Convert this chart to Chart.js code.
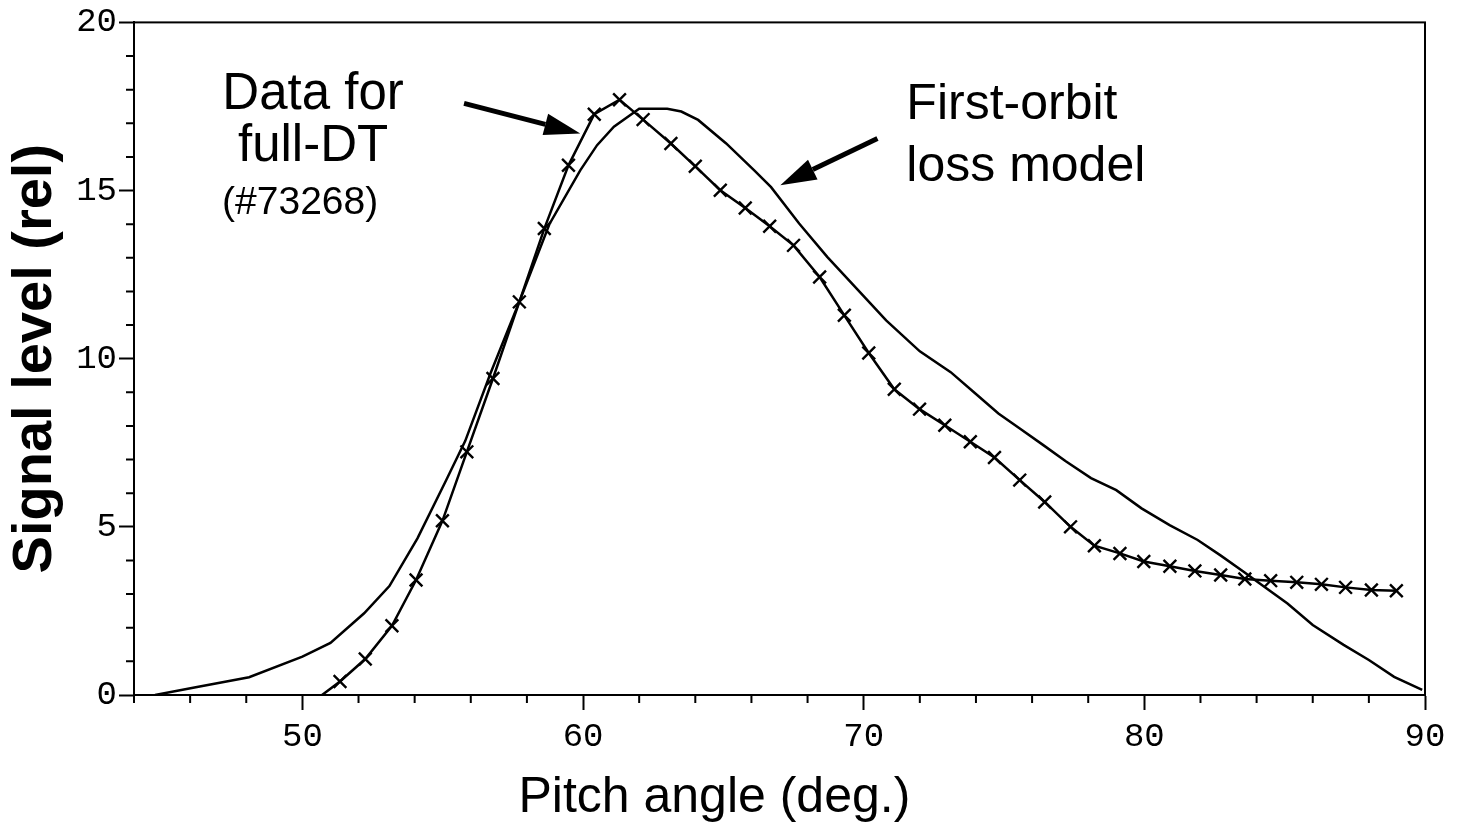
<!DOCTYPE html>
<html>
<head>
<meta charset="utf-8">
<script src="https://cdn.jsdelivr.net/npm/chart.js"></script>
<style>
  html, body { margin: 0; padding: 0; background: #fff; }
  #wrap { width: 1473px; height: 827px; }
</style>
</head>
<body>
<div id="wrap"><canvas id="pitchChart" width="1473" height="827"></canvas></div>
<script>
// measured data (x markers), pitch angle in deg
const dataAngle = [50.7, 51.34, 52.24, 53.19, 54.05, 54.99, 55.86, 56.79, 57.73, 58.62, 59.48, 60.40,
  61.30, 62.14, 63.13, 64.00, 64.89, 65.78, 66.65, 67.50, 68.43, 69.31, 70.18, 71.09, 71.99,
  72.89, 73.80, 74.66, 75.56, 76.45, 77.37, 78.22, 79.13, 79.98, 80.91, 81.80, 82.72, 83.58,
  84.50, 85.43, 86.31, 87.17, 88.09, 88.98];
const dataSignal = [0.0, 0.40, 1.07, 2.06, 3.42, 5.18, 7.23, 9.41, 11.69, 13.87, 15.75, 17.27,
  17.70, 17.11, 16.40, 15.72, 15.01, 14.48, 13.94, 13.37, 12.43, 11.29, 10.17, 9.09, 8.50,
  8.02, 7.53, 7.06, 6.39, 5.74, 5.00, 4.44, 4.21, 3.97, 3.83, 3.69, 3.57, 3.45,
  3.40, 3.35, 3.29, 3.20, 3.12, 3.10];

// first-orbit loss model (solid line)
const modelAngle = [44.75, 46.2, 48.1, 50.0, 51.0, 52.2, 53.1, 54.1, 55.1, 55.8, 56.7, 57.8, 58.8,
  59.9, 60.5, 61.1, 62.0, 63.0, 63.5, 64.1, 65.1, 66.1, 66.7, 67.7, 68.7, 69.8, 70.8, 72.0,
  73.1, 74.0, 74.8, 75.6, 76.4, 77.2, 78.1, 79.0, 79.9, 80.9, 81.9, 82.7, 83.55, 84.1, 85.1,
  86.0, 87.1, 88.0, 88.9, 89.9];
const modelSignal = [0.0, 0.23, 0.53, 1.14, 1.55, 2.43, 3.24, 4.66, 6.35, 7.55, 9.56, 11.84, 14.0,
  15.6, 16.35, 16.9, 17.43, 17.43, 17.35, 17.1, 16.4, 15.6, 15.1, 14.02, 13.03, 12.04, 11.14, 10.22,
  9.6, 8.95, 8.37, 7.9, 7.43, 6.95, 6.45, 6.09, 5.55, 5.05, 4.61, 4.16, 3.66, 3.32, 2.72,
  2.08, 1.49, 1.04, 0.54, 0.15];

const xMajor = [50, 60, 70, 80, 90];
const yMajor = [0, 5, 10, 15, 20];

const sans = '"Liberation Sans", Arial, sans-serif';

// text labels placed in data coordinates
const notes = [
  { text: 'Data for', x: 50.38, y: 17.83, size: 51, align: 'center' },
  { text: 'full-DT', x: 50.38, y: 16.29, size: 51, align: 'center' },
  { text: '(#73268)', x: 47.14, y: 14.62, size: 39, align: 'left' },
  { text: 'First-orbit', x: 71.52, y: 17.53, size: 50, align: 'left' },
  { text: 'loss model', x: 71.52, y: 15.69, size: 50, align: 'left' }
];
const arrows = [
  { from: [55.76, 17.59], to: [59.90, 16.70] },
  { from: [70.49, 16.55], to: [67.03, 15.16] }
];
const xTitle = { text: 'Pitch angle (deg.)', x: 64.68, size: 50 };

const toPts = (xs, ys) => xs.map((x, i) => ({ x: x, y: ys[i] }));

// minor ticks, box frame, notes, arrows and the x title
const extras = {
  id: 'extras',
  afterDraw(chart) {
    const ctx = chart.ctx;
    const a = chart.chartArea;
    const xs = chart.scales.x, ys = chart.scales.y;
    ctx.save();
    ctx.strokeStyle = '#000';
    ctx.lineWidth = 2;
    ctx.strokeRect(a.left, a.top, a.right - a.left, a.bottom - a.top);

    ctx.beginPath();
    for (let v = 44; v <= 90; v += 2) {
      if (xMajor.includes(v)) continue;
      const px = xs.getPixelForValue(v);
      ctx.moveTo(px, a.bottom);
      ctx.lineTo(px, a.bottom + 8);
    }
    for (let v = 0; v <= 20; v += 1) {
      if (yMajor.includes(v)) continue;
      const py = ys.getPixelForValue(v);
      ctx.moveTo(a.left, py);
      ctx.lineTo(a.left - 8, py);
    }
    ctx.stroke();

    ctx.fillStyle = '#000';
    ctx.textBaseline = 'middle';
    notes.forEach(n => {
      ctx.font = n.size + 'px ' + sans;
      ctx.textAlign = n.align;
      ctx.fillText(n.text, xs.getPixelForValue(n.x), ys.getPixelForValue(n.y));
    });

    ctx.font = xTitle.size + 'px ' + sans;
    ctx.textAlign = 'center';
    ctx.fillText(xTitle.text, xs.getPixelForValue(xTitle.x), a.bottom + 103);

    arrows.forEach(ar => {
      const x0 = xs.getPixelForValue(ar.from[0]), y0 = ys.getPixelForValue(ar.from[1]);
      const x1 = xs.getPixelForValue(ar.to[0]), y1 = ys.getPixelForValue(ar.to[1]);
      const ang = Math.atan2(y1 - y0, x1 - x0);
      const hl = 36, hw = 11;
      const bx = x1 - hl * Math.cos(ang), by = y1 - hl * Math.sin(ang);
      ctx.lineWidth = 5;
      ctx.beginPath();
      ctx.moveTo(x0, y0);
      ctx.lineTo(bx, by);
      ctx.stroke();
      ctx.beginPath();
      ctx.moveTo(x1, y1);
      ctx.lineTo(bx + hw * Math.sin(ang), by - hw * Math.cos(ang));
      ctx.lineTo(bx - hw * Math.sin(ang), by + hw * Math.cos(ang));
      ctx.closePath();
      ctx.fill();
    });
    ctx.restore();
  }
};

const tickFont = { family: '"Liberation Mono", "DejaVu Sans Mono", monospace', size: 34 };

new Chart(document.getElementById('pitchChart'), {
  type: 'scatter',
  data: {
    datasets: [
      {
        label: 'First-orbit loss model',
        data: toPts(modelAngle, modelSignal),
        showLine: true,
        borderColor: '#000',
        borderWidth: 2.5,
        pointRadius: 0,
        tension: 0
      },
      {
        label: 'Data for full-DT (#73268)',
        data: toPts(dataAngle, dataSignal),
        showLine: true,
        borderColor: '#000',
        backgroundColor: '#000',
        borderWidth: 2.5,
        pointStyle: 'crossRot',
        pointRadius: dataAngle.map((v, i) => i === 0 ? 0 : 9),
        pointBorderWidth: 2.4,
        pointBorderColor: '#000',
        tension: 0
      }
    ]
  },
  options: {
    responsive: false,
    animation: false,
    devicePixelRatio: 1,
    layout: { padding: { top: 22, right: 48, left: 0, bottom: 0 } },
    plugins: { legend: { display: false }, tooltip: { enabled: false } },
    scales: {
      x: {
        type: 'linear',
        min: 44,
        max: 90,
        afterFit: s => { s.height = 132; },
        border: { display: true, color: '#000', width: 2 },
        grid: {
          drawOnChartArea: false,
          tickLength: 15,
          tickWidth: 2,
          tickColor: c => (c.tick && xMajor.includes(c.tick.value)) ? '#000' : 'rgba(0,0,0,0)'
        },
        ticks: {
          stepSize: 2,
          autoSkip: false,
          maxRotation: 0,
          padding: 7,
          color: '#000',
          font: tickFont,
          callback: v => xMajor.includes(v) ? String(v) : ''
        }
      },
      y: {
        min: 0,
        max: 20,
        afterFit: s => { s.width = 134; },
        border: { display: true, color: '#000', width: 2 },
        grid: {
          drawOnChartArea: false,
          tickLength: 15,
          tickWidth: 2,
          tickColor: c => (c.tick && yMajor.includes(c.tick.value)) ? '#000' : 'rgba(0,0,0,0)'
        },
        ticks: {
          stepSize: 1,
          autoSkip: false,
          padding: 2,
          color: '#000',
          font: tickFont,
          callback: v => yMajor.includes(v) ? String(v) : ''
        },
        title: {
          display: true,
          text: 'Signal level (rel)',
          color: '#000',
          font: { family: sans, size: 56, weight: 'bold' },
          padding: { top: 2, bottom: 0 }
        }
      }
    }
  },
  plugins: [extras]
});
</script>
</body>
</html>
